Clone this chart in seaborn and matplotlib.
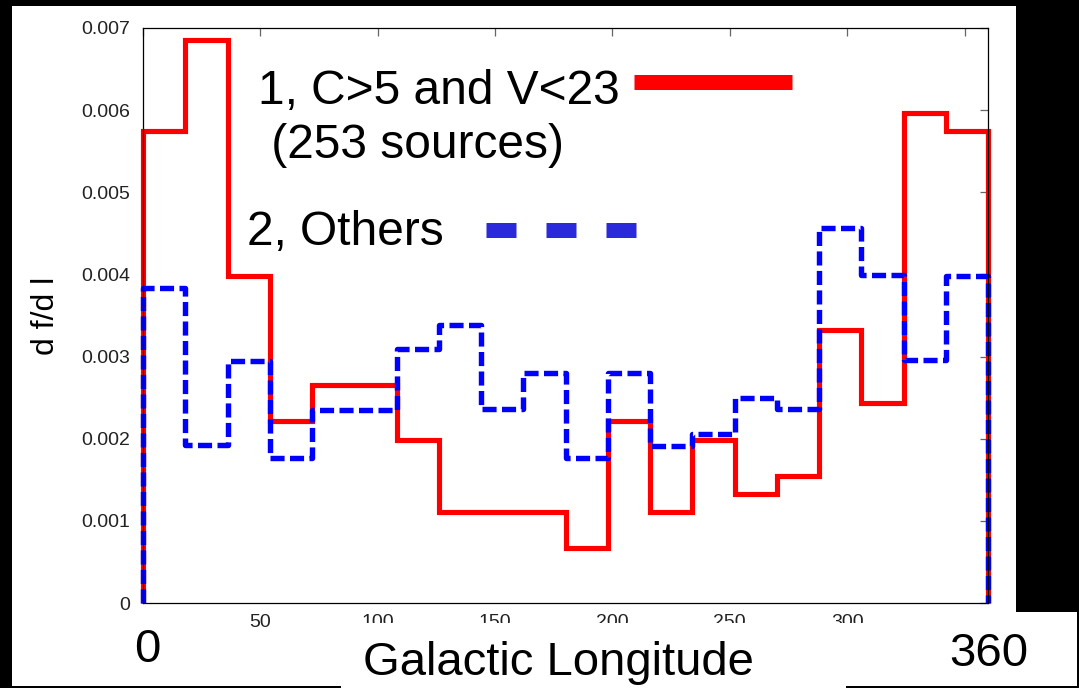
import numpy as np
import pandas as pd
import matplotlib
matplotlib.use("Agg")
import matplotlib.pyplot as plt
from matplotlib.patches import Rectangle
from matplotlib.lines import Line2D
import seaborn as sns

# ---------------- data ----------------
bin_edges = list(range(0, 361, 18))  # 20 bins of 18 degrees
red_values = [0.00575, 0.00685, 0.00398, 0.00221, 0.00266, 0.00266, 0.00199, 0.00111,
              0.00111, 0.00111, 0.00067, 0.00221, 0.00111, 0.00199, 0.00133, 0.00155,
              0.00332, 0.00243, 0.00596, 0.00574]
blue_values = [0.00383, 0.00192, 0.00295, 0.00176, 0.00235, 0.00235, 0.00309, 0.00339,
               0.00236, 0.00280, 0.00177, 0.00280, 0.00191, 0.00206, 0.00250, 0.00236,
               0.00457, 0.00399, 0.00296, 0.00398]
x_ticks = [0, 50, 100, 150, 200, 250, 300, 350]
x_tick_labels = ["", "50", "100", "150", "200", "250", "300", ""]
y_ticks = [0, 0.001, 0.002, 0.003, 0.004, 0.005, 0.006, 0.007]
y_tick_labels = ["0", "0.001", "0.002", "0.003", "0.004", "0.005", "0.006", "0.007"]
legend_red = "1, C>5 and V<23"
legend_red2 = " (253 sources)"
legend_blue = "2, Others"

sns.set_theme(style="white")
plt.rcParams["font.family"] = ["Liberation Sans", "DejaVu Sans"]

W, H = 1079, 688
fig = plt.figure(figsize=(W / 100, H / 100), dpi=100, facecolor="black")


def fx(px):
    return px / W


def fy(py):
    return 1 - py / H


# white slide panels
fig.patches.append(Rectangle((fx(12), fy(686)), fx(1004), 680 / H, transform=fig.transFigure,
                             facecolor="white", edgecolor="none", zorder=-5))
fig.patches.append(Rectangle((fx(341), fy(688)), fx(505), 3 / H, transform=fig.transFigure,
                             facecolor="white", edgecolor="none", zorder=-5))
fig.patches.append(Rectangle((fx(1016), fy(686)), fx(61), 74 / H, transform=fig.transFigure,
                             facecolor="white", edgecolor="none", zorder=-5))

ax = fig.add_axes([fx(143), fy(603), fx(845), 575 / H])
ax.set_facecolor("white")


def step_frame(edges, vals):
    xs = [edges[0]] + list(edges[:-1]) + [edges[-1], edges[-1]]
    ys = [0.0] + list(vals) + [vals[-1], 0.0]
    return pd.DataFrame({"x": xs, "y": ys})


df_red = step_frame(bin_edges, red_values)
df_blue = step_frame(bin_edges, blue_values)

sns.lineplot(data=df_red, x="x", y="y", sort=False, estimator=None, ax=ax,
             drawstyle="steps-post", color="#ff0000", linewidth=3.7)
red_line = ax.lines[-1]
sns.lineplot(data=df_blue, x="x", y="y", sort=False, estimator=None, ax=ax,
             drawstyle="steps-post", color="#0000ff", linewidth=3.9)
blue_line = ax.lines[-1]
blue_line.set_dashes((2.6, 1.0))
for ln in (red_line, blue_line):
    ln.set_clip_on(False)
    ln.set_solid_joinstyle("miter")
    ln.set_solid_capstyle("butt")
    ln.set_dash_capstyle("butt")

ax.set_xlim(0, 360)
ax.set_ylim(0, 0.007)
ax.set_xticks(x_ticks)
ax.set_xticklabels(x_tick_labels)
ax.set_yticks(y_ticks)
ax.set_yticklabels(y_tick_labels)
ax.set_xlabel("")
ax.set_ylabel("")
ax.tick_params(axis="both", direction="in", length=6, width=0.9, color="#666666",
               top=True, right=True, labelsize=14, labelcolor="#222222")
ax.tick_params(axis="x", pad=8)
ax.tick_params(axis="y", pad=9)
for sp in ax.spines.values():
    sp.set_visible(True)
    sp.set_color("black")
    sp.set_linewidth(0.9)

# white box of overlaid slide text (clips lower half of some tick labels)
fig.patches.append(Rectangle((fx(330), fy(686)), fx(540), 63 / H, transform=fig.transFigure,
                             facecolor="white", edgecolor="none", zorder=1))

# slide texts
fig.text(fx(147.5), fy(662), "0", fontsize=34, ha="center", va="baseline", color="black", zorder=5)
fig.text(fx(989), fy(666), "360", fontsize=34, ha="center", va="baseline", color="black", zorder=5)
fig.text(fx(558), fy(675), "Galactic Longitude", fontsize=34, ha="center", va="baseline",
         color="black", zorder=5)
fig.text(fx(46), fy(316), "d f/d l", fontsize=23, rotation=90, ha="center", va="center",
         color="black", zorder=5)

# legend (gnuplot style: text then sample)
fig.text(fx(258), fy(104), legend_red, fontsize=34.5, ha="left", va="baseline", color="black", zorder=5)
fig.text(fx(258), fy(158), legend_red2, fontsize=34.5, ha="left", va="baseline", color="black", zorder=5)
fig.text(fx(247), fy(245), legend_blue, fontsize=34.5, ha="left", va="baseline", color="black", zorder=5)
fig.lines.append(Line2D([fx(634), fx(792)], [fy(82), fy(82)], transform=fig.transFigure,
                        color="#ff0000", linewidth=10.8, solid_capstyle="butt", zorder=5))
leg_blue = Line2D([fx(486), fx(636)], [fy(230), fy(230)], transform=fig.transFigure,
                  color="#2a2adb", linewidth=10.8, dash_capstyle="butt", zorder=5)
leg_blue.set_dashes((2.0, 2.0))
fig.lines.append(leg_blue)

fig.savefig("out.png", dpi=100, facecolor=fig.get_facecolor())
